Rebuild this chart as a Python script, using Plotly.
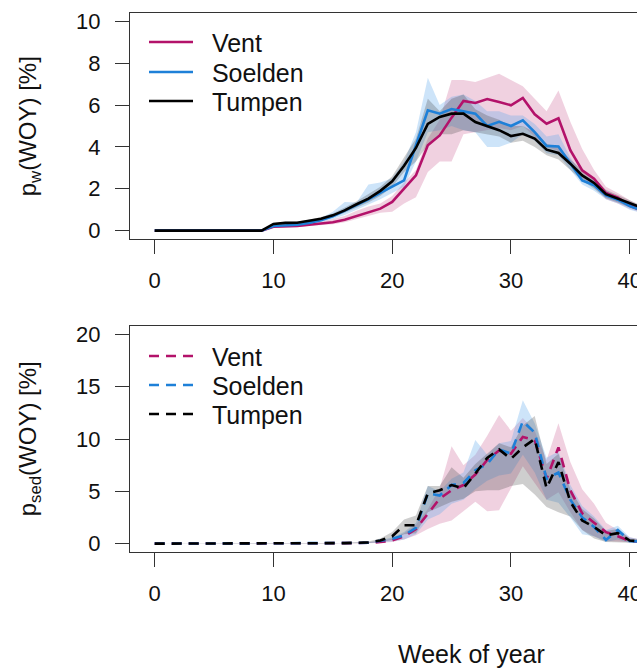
import plotly.graph_objects as go

weeks = list(range(0, 43))

# ---- p_w(WOY) [%] (top panel) ----
z10 = [0.0] * 10
pw_vent = z10 + [0.19, 0.2, 0.22, 0.28, 0.33, 0.4, 0.52, 0.7, 0.88, 1.05, 1.37, 2.0, 2.64, 4.08, 4.55, 5.4,
                 6.2, 6.1, 6.29, 6.15, 5.99, 6.34, 5.56, 5.11, 5.37, 3.84, 2.88, 2.48, 1.8, 1.58, 1.2, 0.97, 0.85]
pw_vent_lo = z10 + [0.15, 0.16, 0.17, 0.22, 0.27, 0.3, 0.4, 0.55, 0.7, 0.85, 0.9, 1.3, 1.6, 2.8, 3.3, 3.3,
                    4.6, 4.7, 4.8, 4.9, 4.8, 5.0, 4.5, 4.0, 3.8, 3.1, 2.5, 2.1, 1.5, 1.3, 1.05, 0.85, 0.75]
pw_vent_hi = z10 + [0.25, 0.26, 0.28, 0.35, 0.42, 0.55, 0.7, 0.95, 1.15, 1.3, 1.65, 2.3, 2.9, 4.4, 5.3, 7.2,
                    7.2, 7.1, 7.3, 7.5, 7.2, 6.9, 6.3, 5.7, 6.7, 5.2, 3.9, 2.9, 2.1, 1.8, 1.45, 1.15, 1.0]

pw_soel = z10 + [0.22, 0.25, 0.28, 0.37, 0.5, 0.68, 0.95, 1.2, 1.5, 1.8, 2.1, 2.4, 4.08, 5.75, 5.59, 5.81,
                 5.7, 5.59, 5.0, 5.2, 5.0, 5.27, 4.71, 4.05, 4.02, 3.2, 2.4, 2.17, 1.69, 1.48, 1.18, 0.98, 0.85]
pw_soel_lo = z10 + [0.18, 0.2, 0.23, 0.3, 0.4, 0.55, 0.75, 1.0, 1.25, 1.5, 1.8, 2.1, 3.3, 4.7, 4.8, 5.0,
                    4.8, 4.7, 4.0, 4.0, 4.2, 4.6, 4.3, 3.7, 3.6, 2.9, 2.2, 1.9, 1.5, 1.3, 1.0, 0.85, 0.75]
pw_soel_hi = z10 + [0.27, 0.3, 0.33, 0.45, 0.6, 0.9, 1.37, 1.35, 2.2, 2.3, 2.5, 3.3, 4.7, 7.3, 6.0, 6.4,
                    6.5, 6.2, 5.7, 5.7, 5.5, 5.5, 5.1, 4.5, 4.6, 3.5, 2.7, 2.4, 1.9, 1.6, 1.3, 1.1, 0.95]

pw_tump = z10 + [0.32, 0.37, 0.38, 0.46, 0.57, 0.73, 0.97, 1.26, 1.53, 1.9, 2.36, 3.1, 3.95, 5.1, 5.43, 5.59,
                 5.59, 5.19, 5.0, 4.8, 4.52, 4.63, 4.4, 3.87, 3.71, 3.2, 2.64, 2.28, 1.74, 1.53, 1.3, 1.1, 0.95]
pw_tump_lo = z10 + [0.28, 0.32, 0.33, 0.4, 0.5, 0.64, 0.85, 1.1, 1.35, 1.65, 2.1, 2.8, 3.3, 4.1, 4.6, 4.6,
                    4.8, 4.7, 4.6, 4.5, 4.2, 4.3, 4.0, 3.6, 3.4, 2.9, 2.4, 2.0, 1.55, 1.35, 1.1, 0.9, 0.78]
pw_tump_hi = z10 + [0.36, 0.42, 0.44, 0.52, 0.65, 0.82, 1.1, 1.4, 1.75, 2.1, 2.6, 3.5, 4.4, 6.3, 5.7, 6.3,
                    6.5, 5.8, 5.5, 5.3, 5.0, 5.0, 4.7, 4.15, 4.0, 3.4, 2.9, 2.5, 1.95, 1.7, 1.45, 1.2, 1.05]

# ---- p_sed(WOY) [%] (bottom panel) ----
z16 = [0.0] * 16
ps_vent = z16 + [0.03, 0.05, 0.08, 0.15, 0.3, 0.7, 1.4, 2.8, 4.3, 5.1, 5.6, 6.6, 8.0, 8.9, 8.6, 10.2,
                 9.9, 6.2, 9.2, 5.1, 2.9, 2.0, 1.1, 0.7, 0.25, 0.2, 0.1]
ps_vent_lo = z16 + [0.01, 0.02, 0.04, 0.08, 0.15, 0.4, 0.8, 1.4, 1.9, 2.2, 3.1, 4.0, 3.1, 3.2, 5.3, 7.4,
                    5.8, 4.2, 4.9, 3.0, 1.3, 0.7, 0.25, 0.2, 0.1, 0.05, 0.05]
ps_vent_hi = z16 + [0.05, 0.08, 0.12, 0.25, 0.5, 1.0, 1.8, 3.3, 5.3, 9.3, 7.5, 8.5, 10.3, 12.3, 10.8, 12.0,
                    10.8, 8.0, 11.5, 7.8, 5.2, 3.8, 2.0, 1.3, 0.6, 0.4, 0.3]

ps_soel = z16 + [0.03, 0.06, 0.1, 0.25, 0.45, 0.8, 1.5, 4.8, 4.6, 5.6, 5.8, 7.0, 7.6, 9.0, 8.6, 11.7,
                 10.6, 6.2, 6.8, 4.2, 2.5, 1.6, 0.35, 1.3, 0.25, 0.2, 0.1]
ps_soel_lo = z16 + [0.01, 0.02, 0.05, 0.1, 0.2, 0.4, 0.9, 2.3, 2.8, 3.8, 4.2, 5.2, 6.0, 6.5, 6.7, 8.5,
                    6.8, 4.2, 3.9, 2.5, 0.9, 0.7, 0.15, 0.4, 0.05, 0.05, 0.05]
ps_soel_hi = z16 + [0.05, 0.08, 0.12, 0.3, 0.6, 1.1, 2.0, 5.5, 5.0, 6.2, 6.8, 9.9, 8.5, 9.6, 9.8, 13.7,
                    11.5, 8.2, 8.8, 5.6, 3.6, 2.6, 1.3, 1.7, 0.6, 0.4, 0.3]

ps_tump = z16 + [0.05, 0.08, 0.12, 0.3, 0.7, 1.75, 1.75, 4.8, 5.1, 5.6, 5.3, 6.7, 8.2, 9.0, 8.1, 9.2,
                 10.0, 5.3, 7.8, 4.0, 2.2, 1.6, 0.8, 1.0, 0.3, 0.2, 0.15]
ps_tump_lo = z16 + [0.02, 0.04, 0.06, 0.15, 0.35, 0.9, 1.0, 3.0, 3.5, 4.0, 4.3, 5.0, 5.1, 5.1, 5.5, 5.7,
                    4.7, 3.5, 3.0, 2.6, 1.3, 0.5, 0.15, 0.1, 0.05, 0.05, 0.05]
ps_tump_hi = z16 + [0.08, 0.12, 0.2, 0.5, 1.1, 2.3, 2.7, 5.5, 5.5, 7.3, 6.3, 7.6, 8.6, 9.6, 9.2, 11.3,
                    12.2, 7.6, 8.6, 5.2, 3.3, 2.4, 1.2, 1.4, 0.5, 0.4, 0.3]

stations = ["Vent", "Soelden", "Tumpen"]
line_colors = ["#B3126A", "#1E80D8", "#000000"]
band_colors = ["rgba(200, 90, 145, 0.28)", "rgba(90, 165, 235, 0.30)", "rgba(50, 50, 50, 0.24)"]

x_ticks = [0, 10, 20, 30, 40]
top_ticks = [0, 2, 4, 6, 8, 10]
bot_ticks = [0, 5, 10, 15, 20]

top_series = [(pw_vent, pw_vent_lo, pw_vent_hi), (pw_soel, pw_soel_lo, pw_soel_hi), (pw_tump, pw_tump_lo, pw_tump_hi)]
bot_series = [(ps_vent, ps_vent_lo, ps_vent_hi), (ps_soel, ps_soel_lo, ps_soel_hi), (ps_tump, ps_tump_lo, ps_tump_hi)]

W, H = 637, 668
ML, MR, MT, MB = 130, 0, 12.7, 116.3
PH = H - MT - MB
FONT = "Liberation Sans, Arial, sans-serif"
FS_TICK = 22
FS_TEXT = 25
FS_YT = 24
NB = "\u00a0\u00a0"


def px_x(px):
    return (px - ML) / (W - ML)


def px_y(py):
    return 1 - (py - MT) / PH


fig = go.Figure()

legend_rows = {"top": [42, 72, 101], "bot": [356, 385, 414]}
legend_layout = {}
leg_i = 0
for panel, series, xa, ya, dash in [("top", top_series, "x", "y", "solid"),
                                    ("bot", bot_series, "x2", "y2", "10px,7px")]:
    # bands
    for (mid, lo, hi), bc in zip(series, band_colors):
        fig.add_trace(go.Scatter(x=weeks, y=lo, xaxis=xa, yaxis=ya, mode="lines",
                                 line=dict(width=0, color=bc), showlegend=False, hoverinfo="skip"))
        fig.add_trace(go.Scatter(x=weeks, y=hi, xaxis=xa, yaxis=ya, mode="lines", fill="tonexty",
                                 fillcolor=bc, line=dict(width=0, color=bc), showlegend=False,
                                 hoverinfo="skip"))
    # lines, each with its own legend box so rows can be placed exactly
    for k, ((mid, lo, hi), name, lc) in enumerate(zip(series, stations, line_colors)):
        leg_i += 1
        lname = "legend" if leg_i == 1 else f"legend{leg_i}"
        fig.add_trace(go.Scatter(x=weeks, y=mid, xaxis=xa, yaxis=ya, mode="lines", name=NB + name,
                                 line=dict(color=lc, width=2.6, dash=dash), legend=lname))
        legend_layout[lname] = dict(x=px_x(144), y=px_y(legend_rows[panel][k]), xanchor="left",
                                    yanchor="middle", bgcolor="rgba(0,0,0,0)", borderwidth=0,
                                    font=dict(family=FONT, size=FS_TEXT, color="#111111"),
                                    itemwidth=44, traceorder="normal")

top_dom = [(551.7 - 238.7) / PH, 1.0]
bot_dom = [0.0, (551.7 - 325.7) / PH]
xr = [-2.08, -2.08 + (W - ML) / 11.875]

axis_common = dict(showgrid=False, zeroline=False, showline=True, linecolor="#333333", linewidth=1.2,
                   ticks="outside", ticklen=14, tickwidth=1.2, tickcolor="#333333",
                   tickfont=dict(family=FONT, size=FS_TICK, color="#111111"), automargin=False)

fig.update_layout(
    width=W, height=H,
    margin=dict(l=ML, r=MR, t=MT, b=MB),
    paper_bgcolor="white", plot_bgcolor="white",
    font=dict(family=FONT, size=FS_TEXT, color="#111111"),
    xaxis=dict(domain=[0, 1], range=xr, anchor="y", tickvals=x_ticks, mirror=True,
               ticklabelstandoff=7, ticklabeloverflow="allow", **axis_common),
    yaxis=dict(domain=top_dom, range=[-0.4, 10.4], anchor="x", tickvals=top_ticks,
               ticklabelstandoff=10, **axis_common),
    xaxis2=dict(domain=[0, 1], range=xr, anchor="y2", tickvals=x_ticks, mirror=True,
                ticklabelstandoff=7, ticklabeloverflow="allow", **axis_common),
    yaxis2=dict(domain=bot_dom, range=[-0.8, 20.8], anchor="x2", tickvals=bot_ticks,
                ticklabelstandoff=10, **axis_common),
    showlegend=True,
    **legend_layout,
)

fig.add_annotation(text="p<sub>w</sub>(WOY) [%]", x=px_x(29), y=px_y(126), xref="paper", yref="paper",
                   textangle=-90, showarrow=False, font=dict(family=FONT, size=FS_YT, color="#111111"),
                   xanchor="center", yanchor="middle")
fig.add_annotation(text="p<sub>sed</sub>(WOY) [%]", x=px_x(29), y=px_y(439), xref="paper", yref="paper",
                   textangle=-90, showarrow=False, font=dict(family=FONT, size=FS_YT, color="#111111"),
                   xanchor="center", yanchor="middle")
fig.add_annotation(text="Week of year", x=px_x(471), y=px_y(654), xref="paper", yref="paper",
                   showarrow=False, font=dict(family=FONT, size=FS_TEXT, color="#111111"),
                   xanchor="center", yanchor="middle")

fig.write_html("out.html")
